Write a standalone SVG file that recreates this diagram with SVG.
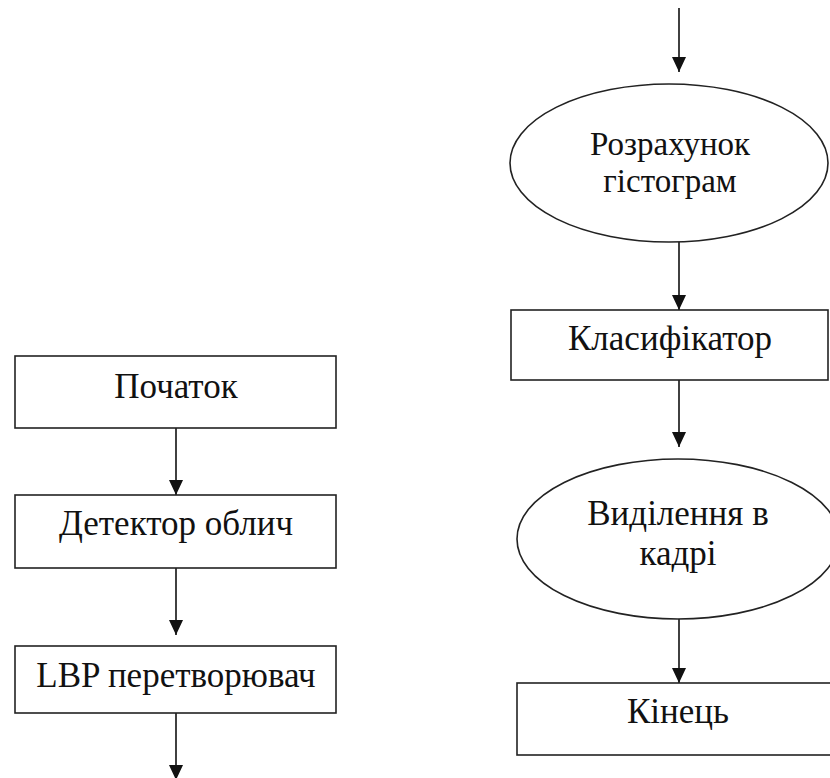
<svg xmlns="http://www.w3.org/2000/svg" width="830" height="778" viewBox="0 0 830 778">
<style>
.box{fill:#fff;stroke:#222;stroke-width:1.6}
.t{font-family:'Liberation Serif','Times New Roman',serif;font-size:35px;fill:#111;text-anchor:middle}
.s{font-size:33px}
.c{stroke:#111;stroke-width:1.6;fill:none}
</style>
<defs>
<marker id="ah" markerUnits="userSpaceOnUse" markerWidth="16" markerHeight="14" viewBox="0 0 16 14" refX="15" refY="7" orient="auto">
<path d="M0,0 L15,7 L0,14 Z" fill="#111"/>
</marker>
</defs>
<rect width="830" height="778" fill="#fff"/>
<g id="connectors">
<line class="c" x1="176" y1="428" x2="176" y2="495" marker-end="url(#ah)"/>
<line class="c" x1="176" y1="568" x2="176" y2="635" marker-end="url(#ah)"/>
<line class="c" x1="176" y1="713" x2="176" y2="780" marker-end="url(#ah)"/>
<line class="c" x1="679" y1="8" x2="679" y2="72" marker-end="url(#ah)"/>
<line class="c" x1="679" y1="242" x2="679" y2="310" marker-end="url(#ah)"/>
<line class="c" x1="679" y1="380" x2="679" y2="447" marker-end="url(#ah)"/>
<line class="c" x1="679" y1="618" x2="679" y2="683" marker-end="url(#ah)"/>
</g>
<g id="start">
<rect class="box" x="15" y="356" width="321" height="72"/>
<text class="t" x="176" y="398">Початок</text>
</g>
<g id="detector">
<rect class="box" x="15" y="495" width="321" height="73"/>
<text class="t" x="176" y="535">Детектор облич</text>
</g>
<g id="lbp">
<rect class="box" x="15" y="646" width="321" height="67"/>
<text class="t" x="176" y="687">LBP перетворювач</text>
</g>
<g id="histogram">
<ellipse class="box" cx="669" cy="163" rx="159" ry="79"/>
<text class="t s" x="670" y="155">Розрахунок</text>
<text class="t s" x="670" y="192">гістограм</text>
</g>
<g id="classifier">
<rect class="box" x="511" y="310" width="317" height="70"/>
<text class="t" x="670" y="350">Класифікатор</text>
</g>
<g id="highlight">
<ellipse class="box" cx="678" cy="539" rx="161" ry="80"/>
<text class="t" x="678" y="525" font-size="34">Виділення в</text>
<text class="t" x="678" y="565" font-size="34">кадрі</text>
</g>
<g id="end">
<rect class="box" x="517" y="683" width="330" height="72"/>
<text class="t" x="678" y="723">Кінець</text>
</g>
</svg>
